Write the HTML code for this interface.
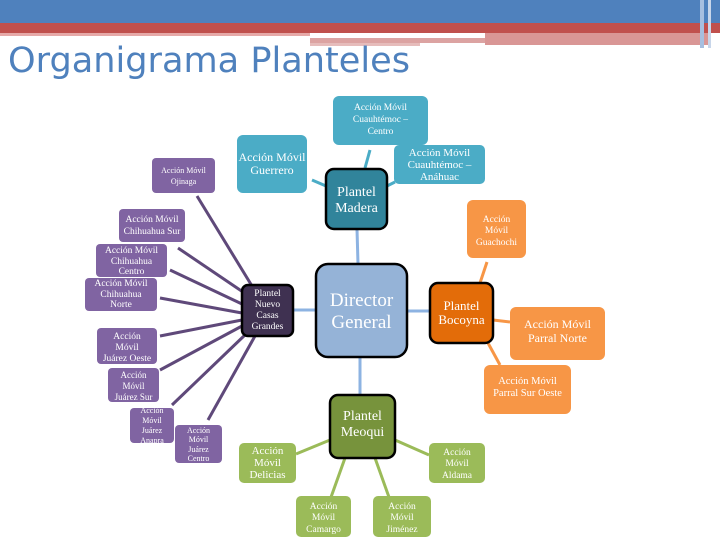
<!DOCTYPE html>
<html><head><meta charset="utf-8"><style>
html,body{margin:0;padding:0;background:#fff;width:720px;height:540px;overflow:hidden}
svg{display:block}
text{font-family:"Liberation Serif",serif;fill:#fff;text-anchor:middle}
</style></head><body>
<svg width="720" height="540" viewBox="0 0 720 540" xmlns="http://www.w3.org/2000/svg">
<!-- header -->
<rect x="0" y="0" width="720" height="23" fill="#4f81bd"/>
<rect x="0" y="23" width="720" height="10" fill="#c0504d"/>
<rect x="0" y="33" width="310" height="3" fill="#e6a9a8"/>
<rect x="310" y="38" width="175" height="5" fill="#dca3a2"/>
<rect x="310" y="43" width="110" height="3" fill="#e6bcbb"/>
<rect x="485" y="33" width="225" height="12" fill="#d99695"/>
<rect x="700" y="0" width="4" height="48" fill="#a6bfe0"/>
<rect x="708" y="0" width="3" height="48" fill="#c8d6ea"/>
<text x="8" y="72" style="font-family:'DejaVu Sans','Liberation Sans',sans-serif;font-size:35px;fill:#4f81bd;text-anchor:start" textLength="402" lengthAdjust="spacingAndGlyphs">Organigrama Planteles</text>

<!-- connectors -->
<g stroke-width="3" fill="none">
<g stroke="#8db3e2">
<line x1="294" y1="310" x2="316" y2="310"/>
<line x1="407" y1="311" x2="430" y2="311"/>
<line x1="357" y1="229" x2="358" y2="264"/>
<line x1="360" y1="357" x2="360" y2="395"/>
</g>
<g stroke="#4bacc6">
<line x1="312" y1="180" x2="326" y2="186"/>
<line x1="370" y1="150" x2="365" y2="168"/>
<line x1="387" y1="186" x2="395" y2="182"/>
</g>
<g stroke="#f79646">
<line x1="480" y1="283" x2="487" y2="262"/>
<line x1="493" y1="320" x2="510" y2="322"/>
<line x1="488" y1="343" x2="500" y2="365"/>
</g>
<g stroke="#9bbb59">
<line x1="296" y1="454" x2="330" y2="440"/>
<line x1="395" y1="440" x2="429" y2="455"/>
<line x1="345" y1="458" x2="330" y2="500"/>
<line x1="375" y1="458" x2="390" y2="500"/>
</g>
<g stroke="#5f497a">
<line x1="197" y1="196" x2="252" y2="286"/>
<line x1="178" y1="248" x2="243" y2="292"/>
<line x1="170" y1="270" x2="242" y2="304"/>
<line x1="160" y1="298" x2="242" y2="313"/>
<line x1="160" y1="336" x2="242" y2="320"/>
<line x1="160" y1="370" x2="242" y2="326"/>
<line x1="172" y1="405" x2="246" y2="334"/>
<line x1="208" y1="420" x2="255" y2="336"/>
</g>
</g>

<!-- nodes -->
<g>
<!-- teal -->
<rect x="333" y="96" width="95" height="49" rx="6" fill="#4bacc6"/>
<text font-size="9.5"><tspan x="380.5" y="110">Acción Móvil</tspan><tspan x="380.5" y="122">Cuauhtémoc –</tspan><tspan x="380.5" y="134">Centro</tspan></text>
<rect x="237" y="135" width="70" height="58" rx="6" fill="#4bacc6"/>
<text font-size="12"><tspan x="272" y="161">Acción Móvil</tspan><tspan x="272" y="174">Guerrero</tspan></text>
<rect x="394" y="145" width="91" height="39" rx="5" fill="#4bacc6"/>
<text font-size="11"><tspan x="439.5" y="156">Acción Móvil</tspan><tspan x="439.5" y="168">Cuauhtémoc –</tspan><tspan x="439.5" y="180">Anáhuac</tspan></text>
<rect x="326" y="169" width="61" height="60" rx="8" fill="#31849b" stroke="#000" stroke-width="2.5"/>
<text font-size="14"><tspan x="356.5" y="196">Plantel</tspan><tspan x="356.5" y="212">Madera</tspan></text>

<!-- purple -->
<rect x="152" y="158" width="63" height="35" rx="4" fill="#8064a2"/>
<text font-size="8"><tspan x="183.5" y="173">Acción Móvil</tspan><tspan x="183.5" y="184">Ojinaga</tspan></text>
<rect x="119" y="209" width="66" height="33" rx="4" fill="#8064a2"/>
<text font-size="9.5"><tspan x="152" y="222">Acción Móvil</tspan><tspan x="152" y="234">Chihuahua Sur</tspan></text>
<rect x="96" y="244" width="71" height="33" rx="4" fill="#8064a2"/>
<text font-size="9.5"><tspan x="131.5" y="253">Acción Móvil</tspan><tspan x="131.5" y="264">Chihuahua</tspan><tspan x="131.5" y="274">Centro</tspan></text>
<rect x="85" y="278" width="72" height="33" rx="4" fill="#8064a2"/>
<text font-size="9.5"><tspan x="121" y="286">Acción Móvil</tspan><tspan x="121" y="297">Chihuahua</tspan><tspan x="121" y="307">Norte</tspan></text>
<rect x="97" y="328" width="60" height="36" rx="4" fill="#8064a2"/>
<text font-size="9.5"><tspan x="127" y="339">Acción</tspan><tspan x="127" y="350">Móvil</tspan><tspan x="127" y="361">Juárez Oeste</tspan></text>
<rect x="108" y="368" width="51" height="34" rx="4" fill="#8064a2"/>
<text font-size="9"><tspan x="133.5" y="378">Acción</tspan><tspan x="133.5" y="389">Móvil</tspan><tspan x="133.5" y="400">Juárez Sur</tspan></text>
<rect x="130" y="408" width="44" height="35" rx="4" fill="#8064a2"/>
<text font-size="8"><tspan x="152" y="413">Acción</tspan><tspan x="152" y="423">Móvil</tspan><tspan x="152" y="433">Juárez</tspan><tspan x="152" y="443">Anapra</tspan></text>
<rect x="175" y="425" width="47" height="38" rx="4" fill="#8064a2"/>
<text font-size="8"><tspan x="198.5" y="433">Acción</tspan><tspan x="198.5" y="442">Móvil</tspan><tspan x="198.5" y="452">Juárez</tspan><tspan x="198.5" y="461">Centro</tspan></text>
<rect x="242" y="285" width="51" height="51" rx="6" fill="#3f3151" stroke="#000" stroke-width="2.5"/>
<text font-size="9.5"><tspan x="267.5" y="296">Plantel</tspan><tspan x="267.5" y="307">Nuevo</tspan><tspan x="267.5" y="318">Casas</tspan><tspan x="267.5" y="329">Grandes</tspan></text>

<!-- director -->
<rect x="316" y="264" width="91" height="93" rx="12" fill="#95b3d7" stroke="#000" stroke-width="2.5"/>
<text font-size="19"><tspan x="361.5" y="306">Director</tspan><tspan x="361.5" y="328">General</tspan></text>

<!-- orange -->
<rect x="467" y="200" width="59" height="58" rx="6" fill="#f79646"/>
<text font-size="9.5"><tspan x="496.5" y="222">Acción</tspan><tspan x="496.5" y="233">Móvil</tspan><tspan x="496.5" y="245">Guachochi</tspan></text>
<rect x="430" y="283" width="63" height="60" rx="8" fill="#e36c09" stroke="#000" stroke-width="2.5"/>
<text font-size="13"><tspan x="461.5" y="310">Plantel</tspan><tspan x="461.5" y="324">Bocoyna</tspan></text>
<rect x="510" y="307" width="95" height="53" rx="6" fill="#f79646"/>
<text font-size="12"><tspan x="557.5" y="328">Acción Móvil</tspan><tspan x="557.5" y="342">Parral Norte</tspan></text>
<rect x="484" y="365" width="87" height="49" rx="6" fill="#f79646"/>
<text font-size="10.5"><tspan x="527.5" y="384">Acción Móvil</tspan><tspan x="527.5" y="396">Parral Sur Oeste</tspan></text>

<!-- green -->
<rect x="330" y="395" width="65" height="63" rx="8" fill="#77933c" stroke="#000" stroke-width="2.5"/>
<text font-size="14"><tspan x="362.5" y="420">Plantel</tspan><tspan x="362.5" y="436">Meoqui</tspan></text>
<rect x="239" y="443" width="57" height="40" rx="5" fill="#9bbb59"/>
<text font-size="11"><tspan x="267.5" y="454">Acción</tspan><tspan x="267.5" y="466">Móvil</tspan><tspan x="267.5" y="478">Delicias</tspan></text>
<rect x="429" y="443" width="56" height="40" rx="5" fill="#9bbb59"/>
<text font-size="9.5"><tspan x="457" y="455">Acción</tspan><tspan x="457" y="466">Móvil</tspan><tspan x="457" y="478">Aldama</tspan></text>
<rect x="296" y="496" width="55" height="41" rx="5" fill="#9bbb59"/>
<text font-size="9.5"><tspan x="323.5" y="509">Acción</tspan><tspan x="323.5" y="520">Móvil</tspan><tspan x="323.5" y="532">Camargo</tspan></text>
<rect x="373" y="496" width="58" height="41" rx="5" fill="#9bbb59"/>
<text font-size="9.5"><tspan x="402" y="509">Acción</tspan><tspan x="402" y="520">Móvil</tspan><tspan x="402" y="532">Jiménez</tspan></text>
</g>
</svg>
</body></html>
